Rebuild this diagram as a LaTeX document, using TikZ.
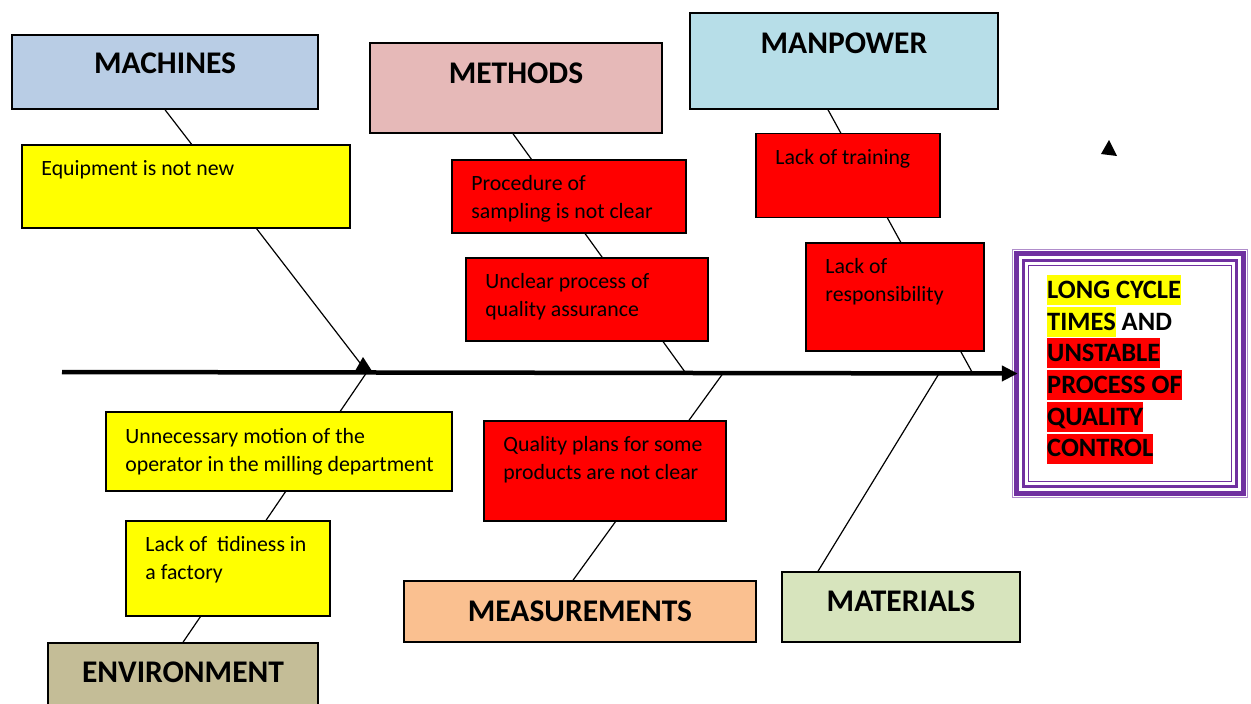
\documentclass[tikz,border=0pt]{standalone}
\usepackage{fontspec}
\setmainfont{Carlito}
\usetikzlibrary{arrows.meta,backgrounds}
\definecolor{machfill}{HTML}{B9CDE5}
\definecolor{methfill}{HTML}{E6B9B8}
\definecolor{manfill}{HTML}{B7DEE8}
\definecolor{envfill}{HTML}{C4BD97}
\definecolor{measfill}{HTML}{FAC090}
\definecolor{matfill}{HTML}{D7E4BD}
\definecolor{purp}{HTML}{7030A0}
\definecolor{hlyellow}{HTML}{FFFF00}
\definecolor{hlred}{HTML}{FF0000}
\newcommand{\txtlines}[1]{\parbox[t]{12cm}{\raggedright #1}}
\newcommand{\hly}[1]{{\setlength{\fboxsep}{0pt}\colorbox{hlyellow}{\rule[-6.7pt]{0pt}{30pt}#1}}}
\newcommand{\hlr}[1]{{\setlength{\fboxsep}{0pt}\colorbox{hlred}{\rule[-6.7pt]{0pt}{30pt}#1}}}

\begin{document}
\begin{tikzpicture}[x=1pt,y=-1pt,
    catbox/.style={draw=black,line width=1.5pt,inner sep=0pt},
    causebox/.style={draw=black,line width=1.5pt,inner sep=0pt},
    cattext/.style={font={\fontsize{31.5}{36}\selectfont\bfseries},inner sep=0pt},
    causetext/.style={font={\fontsize{21.8}{28}\selectfont},inner sep=0pt,anchor=base west},
    bone/.style={line width=1.2pt},
    spine/.style={line width=4.5pt,-{Triangle[length=16pt,width=15pt]}}]
      \useasboundingbox (0,0) rectangle (1251,704);
      \node[catbox,fill=machfill,minimum width=306pt,minimum height=74pt] (machines) at (165,72) {};
      \node[catbox,fill=methfill,minimum width=292pt,minimum height=90pt] (methods) at (516,88) {};
      \node[catbox,fill=manfill,minimum width=308pt,minimum height=96pt] (manpower) at (844,61) {};
      \node[catbox,fill=envfill,minimum width=270pt,minimum height=70pt] (environment) at (183,678) {};
      \node[catbox,fill=measfill,minimum width=352pt,minimum height=61pt] (measurements) at (580,611.5) {};
      \node[catbox,fill=matfill,minimum width=238pt,minimum height=70pt] (materials) at (901,607) {};
      \node[cattext] (machineslbl) at (165,63) {MACHINES};
      \node[cattext] (methodslbl) at (516,73) {METHODS};
      \node[cattext] (manpowerlbl) at (844,43) {MANPOWER};
      \node[cattext] (environmentlbl) at (183,672) {ENVIRONMENT};
      \node[cattext] (measurementslbl) at (580,611) {MEASUREMENTS};
      \node[cattext] (materialslbl) at (901,601) {MATERIALS};
      \node[causebox,fill=hlyellow,minimum width=328pt,minimum height=83pt] (equip) at (186,186.5) {};
      \node[causebox,fill=hlred,minimum width=234pt,minimum height=73pt] (sampling) at (569,196.5) {};
      \node[causebox,fill=hlred,minimum width=242pt,minimum height=83pt] (assurance) at (587,299.5) {};
      \node[causebox,fill=hlred,minimum width=184pt,minimum height=84pt] (training) at (848,175.5) {};
      \node[causebox,fill=hlred,minimum width=178pt,minimum height=108pt] (respons) at (895,297) {};
      \node[causebox,fill=hlyellow,minimum width=346pt,minimum height=79pt] (motion) at (279,451.5) {};
      \node[causebox,fill=hlyellow,minimum width=204pt,minimum height=95pt] (tidiness) at (228,568.5) {};
      \node[causebox,fill=hlred,minimum width=242pt,minimum height=100pt] (plans) at (605,471) {};
      \node[causetext] (equiptxt) at ([shift={(20,31.5)}]equip.north west) {\txtlines{Equipment is not new}};
      \node[causetext] (samplingtxt) at ([shift={(20,31.5)}]sampling.north west) {\txtlines{Procedure of\\sampling is not clear}};
      \node[causetext] (assurancetxt) at ([shift={(20,31)}]assurance.north west) {\txtlines{Unclear process of\\quality assurance}};
      \node[causetext] (trainingtxt) at ([shift={(20,31.5)}]training.north west) {\txtlines{Lack of training}};
      \node[causetext] (responstxt) at ([shift={(20,31)}]respons.north west) {\txtlines{Lack of\\responsibility}};
      \node[causetext] (motiontxt) at ([shift={(20,32)}]motion.north west) {\txtlines{Unnecessary motion of the\\operator in the milling department}};
      \node[causetext] (tidinesstxt) at ([shift={(20,31.5)}]tidiness.north west) {\txtlines{Lack of~ tidiness in\\a factory}};
      \node[causetext] (planstxt) at ([shift={(20,31)}]plans.north west) {\txtlines{Quality plans for some\\products are not clear}};
      \node[minimum width=236pt,minimum height=249pt,inner sep=0pt] (effect) at (1130,373.5) {};
      \draw[purp!55,line width=1pt] ([shift={(0.5,0.5)}]effect.north west) rectangle ([shift={(-0.5,-0.5)}]effect.south east);
      \draw[purp,line width=4.5pt] ([shift={(4.5,4.5)}]effect.north west) rectangle ([shift={(-4.5,-4.5)}]effect.south east);
      \draw[purp,line width=3pt] ([shift={(11.5,11.5)}]effect.north west) rectangle ([shift={(-11.5,-11.5)}]effect.south east);
      \draw[purp,line width=1.2pt] ([shift={(16.5,16.5)}]effect.north west) rectangle ([shift={(-16.5,-16.5)}]effect.south east);
      \node[anchor=base west,inner sep=0pt,font={\fontsize{26.5}{31.7}\selectfont\bfseries}] (effecttxt) at (1047,298.3)
        {\parbox[t]{190pt}{\raggedright\hly{LONG CYCLE}\\\hly{TIMES} AND\\\hlr{UNSTABLE}\\\hlr{PROCESS OF}\\\hlr{QUALITY}\\\hlr{CONTROL}}};
      \coordinate (tail) at (62,372);
      \coordinate (jmach) at (367,372);
      \coordinate (jmeth) at (685,372);
      \coordinate (jmeas) at (724,372);
      \coordinate (jmat) at (940,372);
      \coordinate (jman) at (972,372);
      \begin{scope}[on background layer]
        \draw[bone] (machines.south) -- (jmach);
        \draw[bone] (environment.north) -- (jmach);
        \draw[bone] ([xshift=-3pt]methods.south) -- (jmeth);
        \draw[bone] ([xshift=-7pt]measurements.north) -- (jmeas);
        \draw[bone] ([xshift=-16pt]manpower.south) -- (jman);
        \draw[bone] ([xshift=-83pt]materials.north) -- (jmat);
      \end{scope}
      \draw[spine,shorten >=-6pt] (tail) -- (effect.west);
      \fill (355,371) -- (363,357) -- (372,371) -- cycle;
      \fill (1101,154) -- (1109,140) -- (1117,156) -- cycle;
    \end{tikzpicture}
\end{document}
